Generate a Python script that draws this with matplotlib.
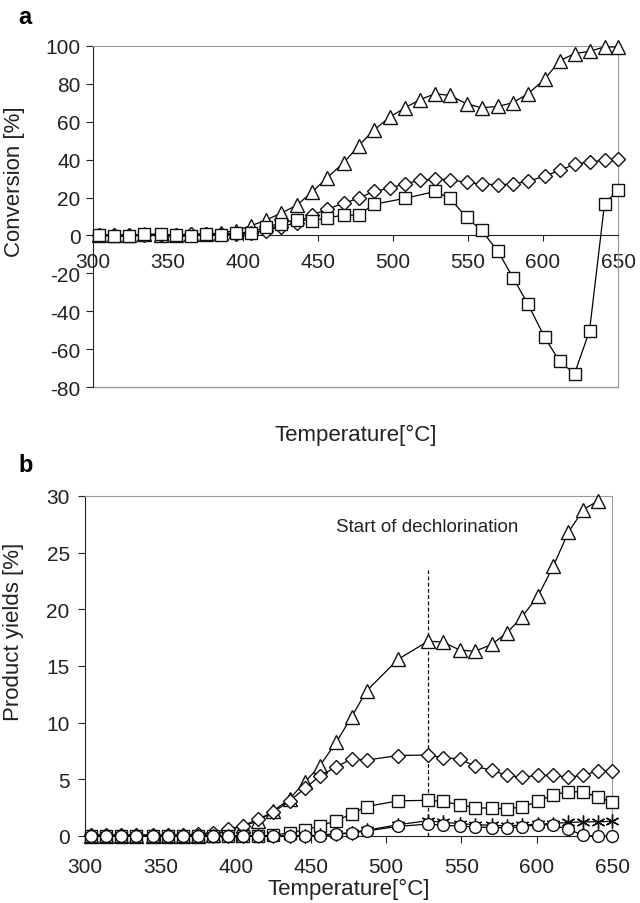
import matplotlib
matplotlib.use("Agg")
import matplotlib.pyplot as plt

plt.rcParams['font.family'] = ['Liberation Sans', 'DejaVu Sans']
plt.rcParams['axes.unicode_minus'] = False

# temperatures (deg C) of the measured points
temp = [304, 314, 324, 334, 345, 355, 365, 375, 385, 395, 405, 415, 425, 436, 446, 456,
        467, 477, 487, 508, 528, 538, 549, 559, 570, 580, 590, 601, 611, 621, 631, 641, 650]
# panel a: triangle / diamond series have two extra points (498, 518)
temp_a = [304, 314, 324, 334, 345, 355, 365, 375, 385, 395, 405, 415, 425, 436, 446, 456,
          467, 477, 487, 498, 508, 518, 528, 538, 549, 559, 570, 580, 590, 601, 611, 621,
          631, 641, 650]

# panel a - conversion [%]
conv_tri = [0.3, 0.2, 0.3, 0.5, 0.4, 0.3, 0.6, 0.8, 1.2, 2.5, 5.0, 8.0, 11.6, 16.0, 22.9, 30.4,
            38.3, 47.2, 55.5, 62.5, 67.4, 71.7, 74.8, 73.9, 69.5, 67.4, 68.1, 70.1, 74.8, 82.4,
            92.1, 96.0, 97.2, 99.5, 99.5]
conv_dia = [0.2, 0.1, 0.3, 0.4, 0.3, 0.2, 0.5, 0.6, 0.8, 1.0, 1.5, 2.5, 4.5, 6.8, 10.7, 13.8,
            17.0, 19.6, 23.2, 25.0, 27.3, 29.1, 29.8, 29.5, 28.0, 27.1, 26.8, 27.1, 28.6, 31.3,
            34.3, 37.5, 38.9, 39.6, 40.2]
conv_sq = [0.4, -0.4, -0.4, 0.7, 0.7, 0.0, -0.5, 0.9, 0.0, 1.4, 1.25, 4.5, 6.3, 8.4, 7.7, 9.3,
           10.7, 10.7, 16.4, 19.6, 23.2, 19.6, 9.5, 2.7, -8.4, -22.3, -36.3, -53.6, -66.4, -73.0,
           -50.4, 16.6, 24.1]

# panel b - product yields [%]
yld_tri = [0, 0, 0, 0, 0, 0, 0, 0, 0.1, 0.5, 0.9, 1.3, 2.2, 3.3, 4.75, 6.2,
           8.3, 10.5, 12.8, 15.6, 17.2, 17.1, 16.4, 16.3, 16.9, 17.9, 19.3, 21.2, 23.8, 26.8,
           28.8, 29.6]
yld_dia = [0.1, 0.1, 0.1, 0.1, 0.1, 0.1, 0.1, 0.15, 0.3, 0.6, 0.9, 1.5, 2.1, 3.1, 4.2, 5.3,
           6.1, 6.8, 6.7, 7.1, 7.15, 6.9, 6.8, 6.15, 5.8, 5.35, 5.2, 5.35, 5.35, 5.2, 5.35,
           5.75, 5.75]
yld_sq = [0, 0, 0, 0, 0, 0, 0, 0, 0, 0, 0, 0, 0.05, 0.3, 0.53, 0.9,
          1.35, 1.95, 2.6, 3.1, 3.15, 3.05, 2.75, 2.5, 2.45, 2.4, 2.55, 3.05, 3.65, 3.9, 3.9,
          3.4, 3.0]
yld_star = [0, 0, 0, 0, 0, 0, 0, 0, 0, 0, 0, 0, 0, 0, 0, 0.1,
            0.2, 0.3, 0.5, 1.0, 1.35, 1.2, 1.1, 1.0, 0.95, 0.9, 0.95, 1.05, 1.1, 1.2, 1.25,
            1.25, 1.3]
yld_circ = [0, 0, 0, 0, 0, 0, 0, 0, 0, 0, 0, 0, 0, 0, 0, 0,
            0.15, 0.25, 0.45, 0.85, 1.05, 0.95, 0.87, 0.8, 0.75, 0.73, 0.8, 1.0, 0.95, 0.6,
            0.05, 0.0, 0.0]

dechlor_t = 528
dechlor_top = 23.5

txt = '#222222'
gray = '#9a9a9a'
tick_fs = 15
lab_fs = 16

fig = plt.figure(figsize=(6.4, 9.04), dpi=100)
ax1 = fig.add_axes([93/640, 1-388/904, 525/640, 341/904])
ax2 = fig.add_axes([85/640, 1-837/904, 527/640, 340/904])


def series(ax, x, y, marker, ms, z):
    ax.plot(x, y, color='black', lw=0.9, marker=marker, ms=ms, mfc='white',
            mec='#111111', mew=1.0, clip_on=False, zorder=z)


# ---- panel a
series(ax1, temp_a, conv_tri, '^', 9.5, 3)
series(ax1, temp_a, conv_dia, 'D', 7, 4)
series(ax1, temp, conv_sq, 's', 8, 5)
ax1.set_xlim(300, 650)
ax1.set_ylim(-80, 100)
ax1.set_xticks(range(300, 651, 50))
ax1.set_yticks(range(-80, 101, 20))
ax1.spines['bottom'].set_position(('data', 0))
for s in ['top', 'right']:
    ax1.spines[s].set_color(gray)
ax1.spines['left'].set_color('#222222')
ax1.spines['bottom'].set_color('#222222')
ax1.plot([0, 1], [0, 0], transform=ax1.transAxes, color=gray, lw=1.0, clip_on=False)
ax1.tick_params(axis='x', direction='out', length=4, pad=8, labelsize=tick_fs, colors=txt)
ax1.tick_params(axis='y', direction='out', length=5, pad=4, labelsize=tick_fs, colors=txt)
ax1.set_ylabel('Conversion [%]', fontsize=lab_fs, color=txt)
ax1.yaxis.set_label_coords(-0.13, 0.604)
ax1.set_xlabel('Temperature[°C]', fontsize=lab_fs, color=txt)
ax1.xaxis.set_label_coords(0.5, -0.108)
fig.text(18/640, 1-18/904, 'a', fontsize=17, fontweight='bold', ha='left', va='center')

# ---- panel b
series(ax2, temp[:len(yld_tri)], yld_tri, '^', 9.5, 3)
series(ax2, temp, yld_dia, 'D', 7, 4)
series(ax2, temp, yld_sq, 's', 8, 5)
series(ax2, temp, yld_star, (6, 2, 0), 10, 6)
series(ax2, temp, yld_circ, 'o', 8.5, 7)
ax2.vlines(dechlor_t, 0, dechlor_top, colors='black', linestyles=(0, (3, 2)), lw=0.9, zorder=2)
ax2.text(527, 27.3, 'Start of dechlorination', fontsize=13.5, color=txt, ha='center', va='center')
ax2.set_xlim(300, 650)
ax2.set_ylim(0, 30)
ax2.set_xticks(range(300, 651, 50))
ax2.set_yticks(range(0, 31, 5))
for s in ['top', 'right']:
    ax2.spines[s].set_color(gray)
ax2.spines['left'].set_color('#222222')
ax2.spines['bottom'].set_color('#222222')
ax2.tick_params(axis='x', direction='out', length=5, pad=10, labelsize=tick_fs, colors=txt)
ax2.tick_params(axis='y', direction='out', length=5, pad=6, labelsize=tick_fs, colors=txt)
ax2.set_ylabel('Product yields [%]', fontsize=lab_fs, color=txt)
ax2.yaxis.set_label_coords(-0.115, 0.603)
ax2.set_xlabel('Temperature[°C]', fontsize=lab_fs, color=txt)
ax2.xaxis.set_label_coords(0.5, -0.122)
fig.text(18/640, 1-466/904, 'b', fontsize=17, fontweight='bold', ha='left', va='center')

fig.savefig('out.png', dpi=100)
